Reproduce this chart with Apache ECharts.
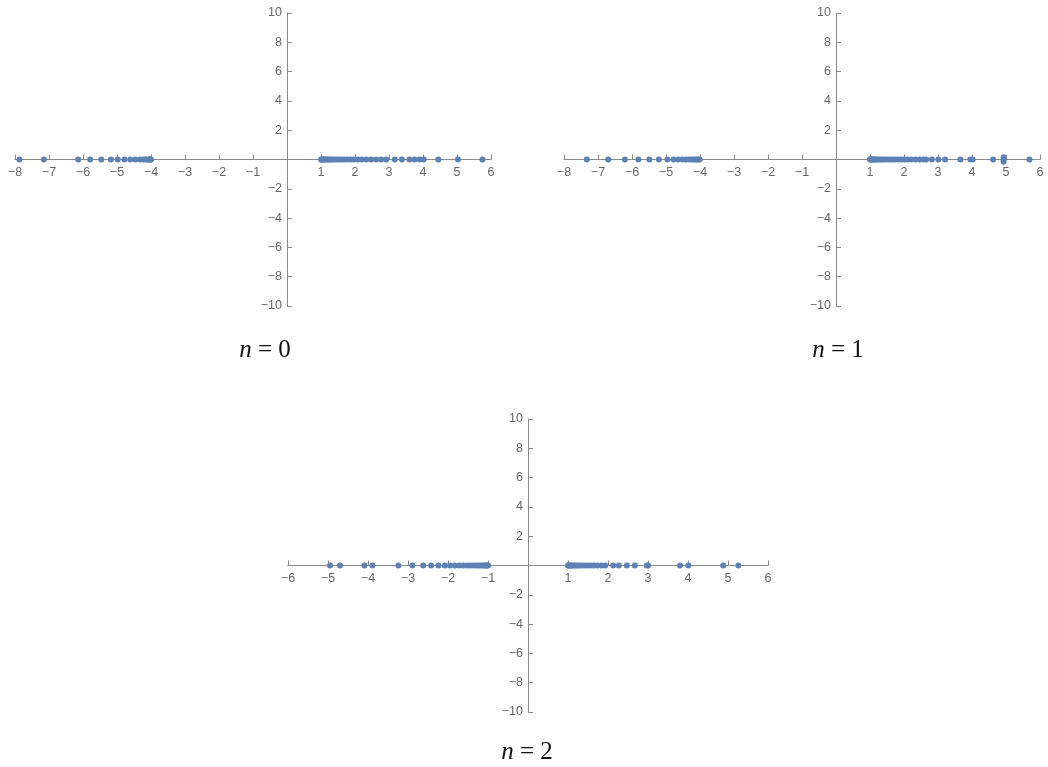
<!DOCTYPE html>
<html>
<head>
<meta charset="utf-8">
<script src="https://cdn.jsdelivr.net/npm/echarts@6/dist/echarts.min.js"></script>
<style>
  html, body { margin: 0; padding: 0; background: #fff; }
  #chart { width: 1048px; height: 767px; }
</style>
</head>
<body>
<div id="chart"></div>
<script>
// zeros, one list per panel
const rootsN0 = [-7.87, -7.15, -6.14, -5.79, -5.46, -5.18, -4.98, -4.78, -4.61, -4.46, -4.33,
  -4.23, -4.16, -4.11, -4.07, -4.04, -4.02, -4.01, -4.0,
  1.0, 1.02, 1.04, 1.06, 1.09, 1.12, 1.15, 1.19, 1.23, 1.28, 1.33, 1.39, 1.45, 1.52, 1.6,
  1.68, 1.77, 1.87, 1.97, 2.08, 2.2, 2.33, 2.47, 2.62, 2.77, 2.92, 3.17, 3.38, 3.6, 3.75,
  3.9, 4.02, 4.45, 5.03, 5.75];
const rootsN1 = [-7.33, -6.7, -6.21, -5.81, -5.49, -5.21, -4.96, -4.78, -4.64, -4.52, -4.42,
  -4.33, -4.25, -4.19, -4.13, -4.08, -4.04, -4.01,
  1.0, 1.01, 1.03, 1.05, 1.07, 1.1, 1.13, 1.17, 1.21, 1.26, 1.31, 1.37, 1.43, 1.5, 1.57,
  1.65, 1.73, 1.82, 1.91, 2.01, 2.11, 2.22, 2.34, 2.46, 2.57, 2.65, 2.82, 3.01, 3.21, 3.66,
  3.95, 4.02, 4.62, 4.93, 5.69];
const offAxisN1 = [[4.93, 0.15], [4.93, -0.15]];
const rootsN2 = [-4.95, -4.7, -4.09, -3.89, -3.24, -2.89, -2.62, -2.42, -2.24, -2.08, -1.95,
  -1.83, -1.72, -1.62, -1.53, -1.45, -1.38, -1.31, -1.25, -1.2, -1.15, -1.11, -1.07, -1.04,
  -1.02, -1.0,
  1.0, 1.01, 1.03, 1.05, 1.08, 1.11, 1.15, 1.19, 1.24, 1.29, 1.35, 1.41, 1.48, 1.56, 1.64,
  1.73, 1.83, 1.93, 2.13, 2.27, 2.47, 2.67, 2.97, 3.0, 3.8, 4.01, 4.88, 5.26];
const xRanges = [[-8, 6], [-8, 6], [-6, 6]];
const yRange = [-10, 10];
const panelLabels = ["0", "1", "2"];

const axisColor = "#8a8a8a";
const labelColor = "#666";
const dotColor = "#5e81b5";

function fmt(v) {
  if (v === 0) return "";
  return String(v).replace("-", "\u2212");
}

const grids = [
  { left: 15, top: 13, width: 476, height: 293 },
  { left: 564, top: 13, width: 476, height: 293 },
  { left: 288, top: 419, width: 480, height: 293 },
];

// axes cross at the origin: shift each axis from its grid edge to zero
const xAxes = xRanges.map((r, i) => ({
  type: "value",
  gridIndex: i,
  position: "bottom",
  offset: -grids[i].height * (0 - yRange[0]) / (yRange[1] - yRange[0]),
  min: r[0],
  max: r[1],
  interval: 1,
  splitLine: { show: false },
  axisLine: { onZero: false, lineStyle: { color: axisColor, width: 1 } },
  axisTick: { inside: true, length: 5, lineStyle: { color: axisColor } },
  axisLabel: { formatter: fmt, color: labelColor, fontSize: 12.5, fontFamily: "Liberation Sans", margin: 7 },
}));

const yAxes = grids.map((g, i) => ({
  type: "value",
  gridIndex: i,
  position: "left",
  offset: -g.width * (0 - xRanges[i][0]) / (xRanges[i][1] - xRanges[i][0]),
  min: yRange[0],
  max: yRange[1],
  interval: 2,
  splitLine: { show: false },
  axisLine: { onZero: false, lineStyle: { color: axisColor, width: 1 } },
  axisTick: { inside: true, length: 5, lineStyle: { color: axisColor } },
  axisLabel: { formatter: fmt, color: labelColor, fontSize: 12.5, fontFamily: "Liberation Sans", margin: 5 },
}));

function dots(xs) {
  return xs.map((x) => [x, 0]);
}

const series = [
  dots(rootsN0),
  dots(rootsN1).concat(offAxisN1),
  dots(rootsN2),
].map((data, i) => ({
  type: "scatter",
  xAxisIndex: i,
  yAxisIndex: i,
  data: data,
  symbolSize: 6,
  itemStyle: { color: dotColor, opacity: 1 },
  silent: true,
  z: 3,
}));

const labelPos = [[265, 350], [838, 350], [527, 752]];
const graphics = labelPos.map((p, i) => ({
  type: "text",
  x: p[0],
  y: p[1],
  style: {
    text: "{i|n}{r| = " + panelLabels[i] + "}",
    align: "center",
    verticalAlign: "middle",
    rich: {
      i: { fontFamily: "Liberation Serif", fontStyle: "italic", fontSize: 25, fill: "#111" },
      r: { fontFamily: "Liberation Serif", fontSize: 25, fill: "#111" },
    },
  },
}));

const chart = echarts.init(document.getElementById("chart"), null, { renderer: "canvas" });
chart.setOption({
  animation: false,
  backgroundColor: "#fff",
  grid: grids,
  xAxis: xAxes,
  yAxis: yAxes,
  series: series,
  graphic: graphics,
});
</script>
</body>
</html>
